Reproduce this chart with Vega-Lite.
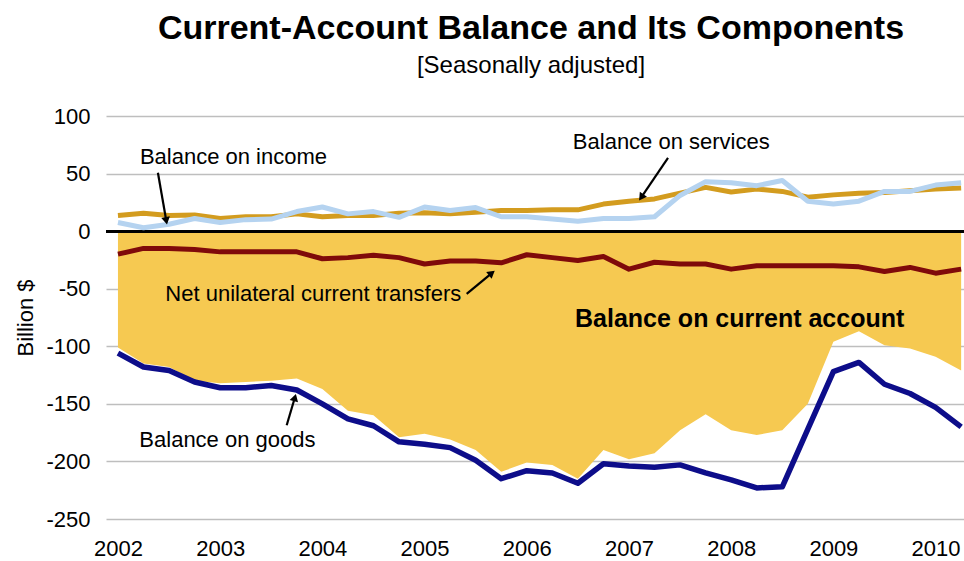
{
  "$schema": "https://vega.github.io/schema/vega-lite/v6.json",
  "width": 858,
  "height": 403,
  "autosize": {"type": "none"},
  "padding": {"left": 106, "top": 116, "right": 0, "bottom": 42},
  "background": "white",
  "config": {
    "font": "Liberation Sans",
    "view": {"stroke": null},
    "axis": {"labelFont": "Liberation Sans", "titleFont": "Liberation Sans", "labelColor": "black", "titleColor": "black"}
  },
  "title": {
    "text": "Current-Account Balance and Its Components",
    "subtitle": "[Seasonally adjusted]",
    "font": "Liberation Sans",
    "subtitleFont": "Liberation Sans",
    "fontSize": 34,
    "fontWeight": "bold",
    "subtitleFontSize": 24,
    "color": "black",
    "subtitleColor": "black",
    "anchor": "middle",
    "dx": -4,
    "offset": 27,
    "subtitlePadding": 8
  },
  "datasets": {
    "series": [
      {"t": 2002.00, "goods": -106, "current": -101, "transfers": -20, "services": 13.5, "income": 7.5},
      {"t": 2002.25, "goods": -118, "current": -115, "transfers": -15, "services": 15.5, "income": 3},
      {"t": 2002.50, "goods": -121, "current": -118, "transfers": -15, "services": 13.5, "income": 6},
      {"t": 2002.75, "goods": -131, "current": -130, "transfers": -16, "services": 14, "income": 11},
      {"t": 2003.00, "goods": -136, "current": -132, "transfers": -18, "services": 11, "income": 7.5},
      {"t": 2003.25, "goods": -136, "current": -131, "transfers": -18, "services": 12.5, "income": 10},
      {"t": 2003.50, "goods": -134, "current": -130, "transfers": -18, "services": 12.5, "income": 10.5},
      {"t": 2003.75, "goods": -138, "current": -128, "transfers": -18, "services": 15, "income": 17},
      {"t": 2004.00, "goods": -150, "current": -137, "transfers": -24, "services": 12.5, "income": 21},
      {"t": 2004.25, "goods": -163, "current": -156, "transfers": -23, "services": 13.5, "income": 15},
      {"t": 2004.50, "goods": -169, "current": -160, "transfers": -21, "services": 13.5, "income": 17},
      {"t": 2004.75, "goods": -183, "current": -179, "transfers": -23, "services": 15.5, "income": 12},
      {"t": 2005.00, "goods": -185, "current": -176, "transfers": -28.5, "services": 16, "income": 21},
      {"t": 2005.25, "goods": -188, "current": -181, "transfers": -26, "services": 15, "income": 18},
      {"t": 2005.50, "goods": -199, "current": -190, "transfers": -26, "services": 16.5, "income": 20.5},
      {"t": 2005.75, "goods": -215, "current": -209, "transfers": -27.5, "services": 18, "income": 12.5},
      {"t": 2006.00, "goods": -208, "current": -201, "transfers": -20.5, "services": 18, "income": 12.5},
      {"t": 2006.25, "goods": -210, "current": -203, "transfers": -23, "services": 18.5, "income": 10.5},
      {"t": 2006.50, "goods": -219, "current": -215, "transfers": -25.5, "services": 18.5, "income": 8.5},
      {"t": 2006.75, "goods": -202, "current": -190, "transfers": -22, "services": 23.5, "income": 11},
      {"t": 2007.00, "goods": -204, "current": -198, "transfers": -33, "services": 26, "income": 11},
      {"t": 2007.25, "goods": -205, "current": -193, "transfers": -27, "services": 28, "income": 12.5},
      {"t": 2007.50, "goods": -203, "current": -173, "transfers": -28.5, "services": 33, "income": 31},
      {"t": 2007.75, "goods": -210, "current": -159, "transfers": -28.5, "services": 38, "income": 43},
      {"t": 2008.00, "goods": -216, "current": -173, "transfers": -33, "services": 34, "income": 42},
      {"t": 2008.25, "goods": -223, "current": -177, "transfers": -30, "services": 36.5, "income": 39.5},
      {"t": 2008.50, "goods": -222, "current": -173, "transfers": -30, "services": 34.5, "income": 44},
      {"t": 2008.75, "goods": -172, "current": -150, "transfers": -30, "services": 29.5, "income": 26},
      {"t": 2009.00, "goods": -122, "current": -96, "transfers": -30, "services": 31.5, "income": 23.5},
      {"t": 2009.25, "goods": -114, "current": -87, "transfers": -31, "services": 33, "income": 26},
      {"t": 2009.50, "goods": -133, "current": -99, "transfers": -35, "services": 33.5, "income": 34.5},
      {"t": 2009.75, "goods": -141, "current": -102, "transfers": -31.5, "services": 35, "income": 34.5},
      {"t": 2010.00, "goods": -153, "current": -109, "transfers": -36.5, "services": 36.5, "income": 40},
      {"t": 2010.25, "goods": -170, "current": -121, "transfers": -33, "services": 37.5, "income": 42}
    ],
    "labels": [
      {"t": 2003.130, "v": 64.0, "text": "Balance on income"},
      {"t": 2007.414, "v": 77.0, "text": "Balance on services"},
      {"t": 2003.911, "v": -54.5, "text": "Net unilateral current transfers"},
      {"t": 2003.071, "v": -181.7, "text": "Balance on goods"}
    ],
    "boldLabels": [
      {"t": 2008.083, "v": -76.1, "text": "Balance on current account"}
    ],
    "arrows": [
      {"name": "income", "t": 2002.391, "v": 50.7, "t2": 2002.473, "v2": 9.0},
      {"name": "services", "t": 2007.382, "v": 63.7, "t2": 2007.120, "v2": 29.3},
      {"name": "transfers", "t": 2005.412, "v": -54.5, "t2": 2005.658, "v2": -36.4},
      {"name": "goods", "t": 2003.651, "v": -168.6, "t2": 2003.731, "v2": -144.5}
    ]
  },
  "encoding": {
    "x": {
      "field": "t",
      "type": "quantitative",
      "scale": {"domain": [2001.883, 2010.278], "nice": false, "zero": false},
      "axis": {
        "values": [2002, 2003, 2004, 2005, 2006, 2007, 2008, 2009, 2010],
        "format": "d",
        "grid": false,
        "domain": false,
        "ticks": false,
        "labelFontSize": 22,
        "labelPadding": 19,
        "title": null
      }
    }
  },
  "layer": [
    {
      "data": {"name": "series"},
      "mark": {"type": "area", "color": "#F6C951", "opacity": 1},
      "encoding": {
        "y": {
          "field": "current",
          "type": "quantitative",
          "scale": {"domain": [-250, 100], "nice": false},
          "axis": {
            "values": [-250, -200, -150, -100, -50, 0, 50, 100],
            "labelExpr": "replace(datum.label, '\u2212', '-')",
            "grid": true,
            "gridColor": "#BEBEBE",
            "gridWidth": 1.6,
            "domain": false,
            "ticks": false,
            "labelFontSize": 22,
            "labelPadding": 16,
            "title": "Billion $",
            "titleFontSize": 22,
            "titleFontWeight": "normal",
            "titlePadding": 8
          }
        },
        "y2": {"datum": 0}
      }
    },
    {
      "data": {"name": "series"},
      "mark": {"type": "rule", "color": "black", "strokeWidth": 2},
      "encoding": {"y": {"datum": 0}, "x": null}
    },
    {
      "data": {"name": "series"},
      "mark": {"type": "line", "color": "#D39C1F", "strokeWidth": 5, "strokeJoin": "round"},
      "encoding": {"y": {"field": "services", "type": "quantitative"}}
    },
    {
      "data": {"name": "series"},
      "mark": {"type": "line", "color": "#B5D3F0", "strokeWidth": 5, "strokeJoin": "round"},
      "encoding": {"y": {"field": "income", "type": "quantitative"}}
    },
    {
      "data": {"name": "series"},
      "mark": {"type": "line", "color": "#7F0A0A", "strokeWidth": 5, "strokeJoin": "round"},
      "encoding": {"y": {"field": "transfers", "type": "quantitative"}}
    },
    {
      "data": {"name": "series"},
      "mark": {"type": "line", "color": "#0D0D8A", "strokeWidth": 5.5, "strokeJoin": "round"},
      "encoding": {"y": {"field": "goods", "type": "quantitative"}}
    },
    {
      "data": {"name": "labels"},
      "mark": {"type": "text", "fontSize": 22, "color": "black", "align": "center", "baseline": "middle", "font": "Liberation Sans"},
      "encoding": {"y": {"field": "v", "type": "quantitative"}, "text": {"field": "text"}}
    },
    {
      "data": {"name": "boldLabels"},
      "mark": {"type": "text", "fontSize": 25, "fontWeight": "bold", "color": "black", "align": "center", "baseline": "middle", "font": "Liberation Sans"},
      "encoding": {"y": {"field": "v", "type": "quantitative"}, "text": {"field": "text"}}
    },
    {
      "data": {"name": "arrows"},
      "mark": {"type": "rule", "color": "black", "strokeWidth": 2.2},
      "encoding": {
        "y": {"field": "v", "type": "quantitative"},
        "x2": {"field": "t2"},
        "y2": {"field": "v2"}
      }
    },
    {
      "data": {"name": "arrows"},
      "transform": [{"filter": "datum.name == 'income'"}],
      "mark": {"type": "point", "shape": "triangle-up", "filled": true, "color": "black", "size": 75, "angle": 169, "opacity": 1},
      "encoding": {"x": {"field": "t2", "type": "quantitative"}, "y": {"field": "v2", "type": "quantitative"}}
    },
    {
      "data": {"name": "arrows"},
      "transform": [{"filter": "datum.name == 'services'"}],
      "mark": {"type": "point", "shape": "triangle-up", "filled": true, "color": "black", "size": 75, "angle": 215, "opacity": 1},
      "encoding": {"x": {"field": "t2", "type": "quantitative"}, "y": {"field": "v2", "type": "quantitative"}}
    },
    {
      "data": {"name": "arrows"},
      "transform": [{"filter": "datum.name == 'transfers'"}],
      "mark": {"type": "point", "shape": "triangle-up", "filled": true, "color": "black", "size": 75, "angle": 51, "opacity": 1},
      "encoding": {"x": {"field": "t2", "type": "quantitative"}, "y": {"field": "v2", "type": "quantitative"}}
    },
    {
      "data": {"name": "arrows"},
      "transform": [{"filter": "datum.name == 'goods'"}],
      "mark": {"type": "point", "shape": "triangle-up", "filled": true, "color": "black", "size": 75, "angle": 16, "opacity": 1},
      "encoding": {"x": {"field": "t2", "type": "quantitative"}, "y": {"field": "v2", "type": "quantitative"}}
    }
  ]
}
